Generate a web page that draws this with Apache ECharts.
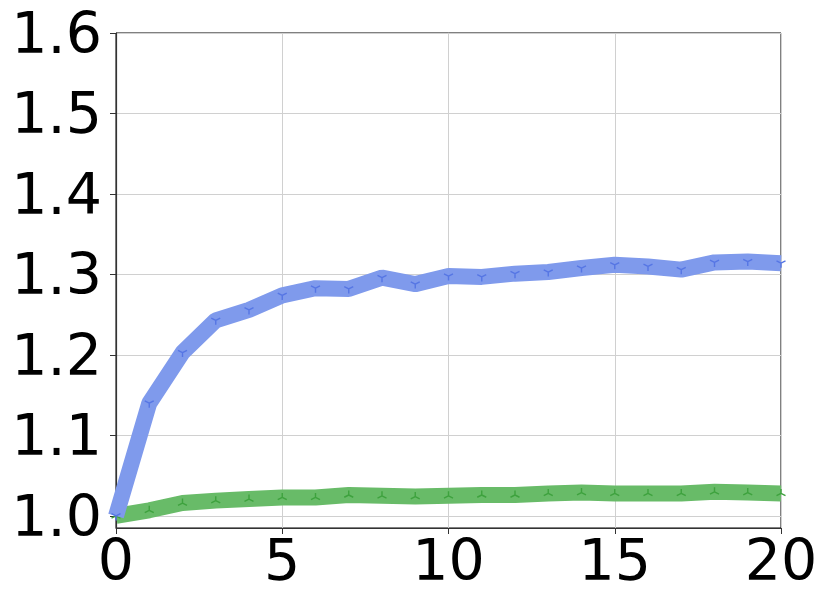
<!DOCTYPE html>
<html>
<head>
<meta charset="utf-8">
<script src="https://cdn.jsdelivr.net/npm/echarts@6/dist/echarts.min.js"></script>
<style>html,body{margin:0;padding:0;background:#fff;}#c{width:830px;height:608px;}</style>
</head>
<body>
<div id="c"></div>
<script>
var xValues = [0,1,2,3,4,5,6,7,8,9,10,11,12,13,14,15,16,17,18,19,20];
var blueSeries = [1.000,1.140,1.203,1.243,1.256,1.274,1.283,1.282,1.296,1.288,1.298,1.297,1.301,1.303,1.308,1.312,1.310,1.306,1.315,1.316,1.314];
var greenSeries = [1.000,1.007,1.016,1.019,1.021,1.023,1.023,1.026,1.025,1.024,1.025,1.026,1.026,1.028,1.029,1.028,1.028,1.028,1.030,1.029,1.028];
var yTicks = [1.0,1.1,1.2,1.3,1.4,1.5,1.6];
var xTicks = [0,5,10,15,20];

function pairs(ys){ return xValues.map(function(x,i){ return [x, ys[i]]; }); }

var triDown = 'path://M0,0 L0,10 M0,0 L-8.66,-5 M0,0 L8.66,-5 M0,-10 M0,10';
var triUp = 'path://M0,0 L0,-10 M0,0 L-8.66,5 M0,0 L8.66,5 M0,-10 M0,10';

var chart = echarts.init(document.getElementById('c'), null, {renderer:'canvas'});
var font = 'DejaVu Sans';
chart.setOption({
  animation: false,
  backgroundColor: '#ffffff',
  grid: {left:116, top:33, right:49, bottom:80, show:true, borderColor:'#000', borderWidth:1, containLabel:false},
  xAxis: {
    type:'value', min:0, max:20, interval:5,
    axisLine:{show:true, onZero:false, lineStyle:{color:'#333', width:1.2}},
    axisTick:{show:true, length:6, customValues: xTicks, lineStyle:{color:'#333'}},
    axisLabel:{fontFamily:font, fontSize:57, color:'#000', margin:9, customValues: xTicks},
    splitLine:{show:true, lineStyle:{color:'#d0d0d0', width:1}}
  },
  yAxis: {
    type:'value', min:0.985, max:1.6,
    axisLine:{show:true, onZero:false, lineStyle:{color:'#333', width:1.2}},
    axisTick:{show:true, length:6, customValues: yTicks, lineStyle:{color:'#333'}},
    axisLabel:{color:'#000', margin:14, customValues: yTicks,
      formatter:function(v){ return '{v|' + Number(v).toFixed(1) + '}'; },
      rich:{v:{fontFamily:font, fontSize:57, color:'#000', padding:[10,0,0,0]}}},
    splitLine:{show:true, customValues: yTicks, lineStyle:{color:'#d0d0d0', width:1}}
  },
  series: [
    {type:'line', data:pairs(blueSeries), lineStyle:{color:'#7f9aec', width:16},
     symbol:triDown, symbolSize:9, showSymbol:true,
     itemStyle:{color:'none', borderColor:'#5676e4', borderWidth:1.4}, z:3},
    {type:'line', data:pairs(greenSeries), lineStyle:{color:'#68bb68', width:16},
     symbol:triUp, symbolSize:9, showSymbol:true,
     itemStyle:{color:'none', borderColor:'#3ea23e', borderWidth:1.4}, z:2}
  ]
});
</script>
</body>
</html>
